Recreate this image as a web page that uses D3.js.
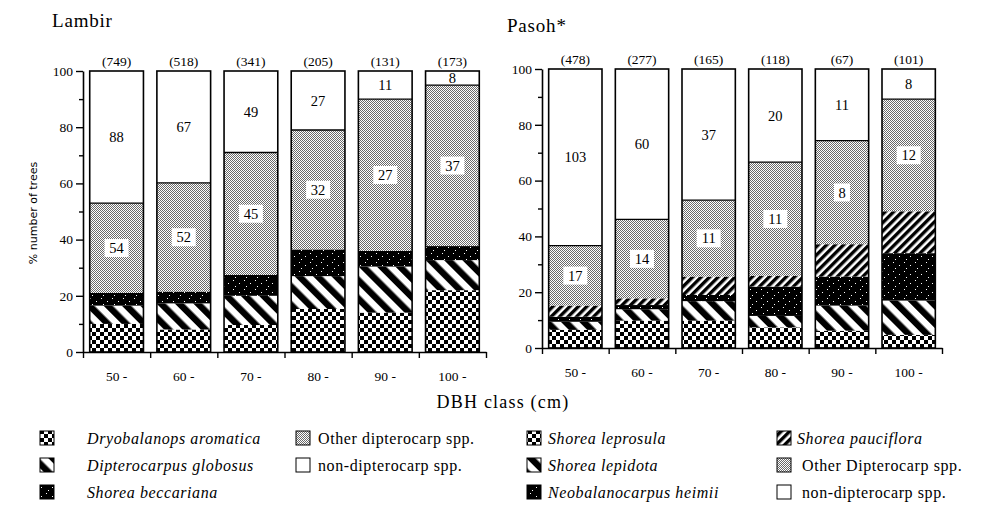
<!DOCTYPE html>
<html>
<head>
<meta charset="utf-8">
<script src="https://cdn.jsdelivr.net/npm/d3@7"></script>
<style>
body { margin: 0; background: #fff; }
svg text { font-family: "Liberation Serif", "Times New Roman", serif; fill: #000; }
</style>
</head>
<body>
<div id="chart"></div>
<script>
/*global d3 */

// ---- data ----
var dbhClasses = ["50 -", "60 -", "70 -", "80 -", "90 -", "100 -"];

// Lambir (% of trees, bottom to top)
var lambirDryobalanops = [10, 8, 9.6, 15.3, 14, 22];
var lambirGlobosus     = [6.5, 9.3, 10.4, 11.7, 16.4, 10.7];
var lambirBeccariana   = [4.5, 4.2, 7.4, 9.5, 5.6, 5];
var lambirOtherDipt    = [32, 38.7, 43.6, 42.5, 54, 57.3];
var lambirNonDipt      = [47, 39.8, 29, 21, 10, 5];
var lambirOtherLabels  = [54, 52, 45, 32, 27, 37];
var lambirNonLabels    = [88, 67, 49, 27, 11, 8];
var lambirCounts       = [749, 518, 341, 205, 131, 173];

// Pasoh
var pasohLeprosula   = [6.5, 9.8, 9.8, 7.4, 6.2, 4.7];
var pasohLepidota    = [2.9, 4.1, 7, 4.1, 9, 12.3];
var pasohHeimii      = [1.8, 1.5, 2.2, 10.5, 10.4, 17];
var pasohPauciflora  = [4, 2.4, 6.6, 3.9, 11.6, 15];
var pasohOtherDipt   = [21.5, 28.3, 27.4, 40.7, 37.1, 40.2];
var pasohNonDipt     = [63.3, 53.9, 47, 33.4, 25.7, 10.8];
var pasohOtherLabels = [17, 14, 11, 11, 8, 12];
var pasohNonLabels   = [103, 60, 37, 20, 11, 8];
var pasohCounts      = [478, 277, 165, 118, 67, 101];

var legendLambir = ["Dryobalanops aromatica", "Dipterocarpus globosus", "Shorea beccariana",
                    "Other dipterocarp spp.", "non-dipterocarp spp."];
var legendPasoh  = ["Shorea leprosula", "Shorea lepidota", "Neobalanocarpus heimii",
                    "Shorea pauciflora", "Other Dipterocarp spp.", "non-dipterocarp spp."];

var svg = d3.select("#chart").append("svg")
    .attr("width", 1003)
    .attr("height", 529);

// ---- fill patterns ----
var defs = svg.append("defs");

function pattern(id, w, h, transform) {
    var p = defs.append("pattern")
        .attr("id", id)
        .attr("patternUnits", "userSpaceOnUse")
        .attr("width", w).attr("height", h);
    if (transform) p.attr("patternTransform", transform);
    return p;
}

var pc = pattern("checker", 8, 8);
pc.append("rect").attr("width", 8).attr("height", 8).attr("fill", "#fff");
pc.append("rect").attr("width", 4).attr("height", 4).attr("fill", "#000");
pc.append("rect").attr("x", 4).attr("y", 4).attr("width", 4).attr("height", 4).attr("fill", "#000");

var pw = pattern("stripeWide", 13, 13, "rotate(-45)");
pw.append("rect").attr("width", 13).attr("height", 13).attr("fill", "#fff");
pw.append("rect").attr("width", 6.5).attr("height", 13).attr("fill", "#000");

var pf = pattern("stripeFine", 6, 6, "rotate(45)");
pf.append("rect").attr("width", 6).attr("height", 6).attr("fill", "#fff");
pf.append("rect").attr("width", 3.4).attr("height", 6).attr("fill", "#000");

var pd = pattern("blackDots", 11, 9);
pd.append("rect").attr("width", 11).attr("height", 9).attr("fill", "#000");
[[2, 1], [8, 4], [4, 7]].forEach(function(d){
    pd.append("rect").attr("x", d[0]).attr("y", d[1]).attr("width", 1).attr("height", 1).attr("fill", "#fff");
});

var pg = pattern("grayStipple", 2, 2);
pg.append("rect").attr("width", 2).attr("height", 2).attr("fill", "#fff");
pg.append("rect").attr("width", 1).attr("height", 1).attr("fill", "#6a6a6a");
pg.append("rect").attr("x", 1).attr("y", 1).attr("width", 1).attr("height", 1).attr("fill", "#6a6a6a");

// ---- one panel ----
function drawPanel(opts) {
    var keys = opts.keys;
    var rows = dbhClasses.map(function(c, i){
        var r = {cls: c};
        keys.forEach(function(k, j){ r[k] = opts.series[j][i]; });
        return r;
    });

    var x = d3.scaleBand().domain(dbhClasses)
        .range([opts.x0, opts.x1])
        .paddingInner(0.2).paddingOuter(0.1);
    var y = d3.scaleLinear().domain([0, 100]).range([opts.y0, opts.y1]);

    var g = svg.append("g");

    var stacked = d3.stack().keys(keys)(rows);

    g.selectAll("g.layer")
        .data(stacked)
      .enter().append("g")
        .attr("class", "layer")
        .attr("fill", function(d){ return opts.fills[d.key]; })
      .selectAll("rect")
        .data(function(d){ return d; })
      .enter().append("rect")
        .attr("x", function(d){ return x(d.data.cls); })
        .attr("y", function(d){ return y(d[1]); })
        .attr("width", x.bandwidth())
        .attr("height", function(d){ return y(d[0]) - y(d[1]); });

    // line between other dipterocarps and non-dipterocarps
    var other = stacked[keys.length - 2];
    g.selectAll("line.sep")
        .data(other)
      .enter().append("line")
        .attr("x1", function(d){ return x(d.data.cls); })
        .attr("x2", function(d){ return x(d.data.cls) + x.bandwidth(); })
        .attr("y1", function(d){ return y(d[1]); })
        .attr("y2", function(d){ return y(d[1]); })
        .attr("stroke", "#000").attr("stroke-width", 1.3);

    // bar outlines
    g.selectAll("rect.outline")
        .data(dbhClasses)
      .enter().append("rect")
        .attr("class", "outline")
        .attr("x", function(d){ return x(d); })
        .attr("y", y(100))
        .attr("width", x.bandwidth())
        .attr("height", y(0) - y(100))
        .attr("fill", "none")
        .attr("stroke", "#000").attr("stroke-width", 1.6);

    // labels in the gray (other dipterocarp) segment, on a white box
    var lab = g.selectAll("g.olab")
        .data(other)
      .enter().append("g")
        .attr("class", "olab")
        .attr("transform", function(d, i){
            return "translate(" + (x(d.data.cls) + x.bandwidth() / 2) + "," + ((y(d[0]) + y(d[1])) / 2) + ")";
        });
    lab.append("rect")
        .attr("x", function(d, i){ return String(opts.otherLabels[i]).length > 1 ? -12 : -8; })
        .attr("y", -9)
        .attr("width", function(d, i){ return String(opts.otherLabels[i]).length > 1 ? 24 : 16; })
        .attr("height", 18)
        .attr("fill", "#fff");
    lab.append("text")
        .attr("text-anchor", "middle")
        .attr("dy", "0.35em")
        .attr("font-size", 14.5)
        .text(function(d, i){ return opts.otherLabels[i]; });

    // labels in the white (non-dipterocarp) segment
    var top = stacked[keys.length - 1];
    g.selectAll("text.nlab")
        .data(top)
      .enter().append("text")
        .attr("class", "nlab")
        .attr("x", function(d){ return x(d.data.cls) + x.bandwidth() / 2; })
        .attr("y", function(d){ return (y(d[0]) + y(d[1])) / 2; })
        .attr("dy", "0.35em")
        .attr("text-anchor", "middle")
        .attr("font-size", 14.5)
        .text(function(d, i){ return opts.nonLabels[i]; });

    // counts above bars
    g.selectAll("text.count")
        .data(dbhClasses)
      .enter().append("text")
        .attr("class", "count")
        .attr("x", function(d){ return x(d) + x.bandwidth() / 2; })
        .attr("y", y(100) - 5)
        .attr("text-anchor", "middle")
        .attr("font-size", 13.5)
        .text(function(d, i){ return "(" + opts.counts[i] + ")"; });

    // y axis, major and minor ticks
    g.append("g")
        .attr("transform", "translate(" + opts.x0 + ",0)")
        .call(d3.axisLeft(y).tickValues([0, 20, 40, 60, 80, 100])
            .tickSize(7).tickSizeOuter(0).tickPadding(3));
    g.append("g")
        .attr("transform", "translate(" + opts.x0 + ",0)")
        .call(d3.axisLeft(y).tickValues([10, 30, 50, 70, 90])
            .tickSize(4).tickFormat(function(){ return null; }))
      .select(".domain").remove();

    // x axis: ticks at class boundaries, labels under bars
    var xb = d3.scaleLinear().domain([0, dbhClasses.length]).range([opts.x0, opts.x1]);
    g.append("g")
        .attr("transform", "translate(0," + y(0) + ")")
        .call(d3.axisBottom(xb).tickValues(d3.range(dbhClasses.length + 1))
            .tickSize(6).tickSizeOuter(0).tickFormat(function(){ return null; }));
    var xAxis = g.append("g")
        .attr("transform", "translate(0," + y(0) + ")")
        .call(d3.axisBottom(x).tickSize(0).tickPadding(19));
    xAxis.select(".domain").remove();

    g.selectAll(".domain").attr("stroke-width", 1.6);
    g.selectAll(".tick line").attr("stroke-width", 1.4);
    g.selectAll(".tick text").attr("font-size", 13.5);

    g.append("text")
        .attr("x", opts.titleX).attr("y", opts.titleY)
        .attr("font-size", 19)
        .attr("letter-spacing", 0.8)
        .text(opts.title);
}

drawPanel({
    title: "Lambir", titleX: 52, titleY: 27,
    x0: 83, x1: 486, y0: 352, y1: 71,
    keys: ["dryo", "glob", "becc", "other", "non"],
    series: [lambirDryobalanops, lambirGlobosus, lambirBeccariana, lambirOtherDipt, lambirNonDipt],
    fills: {dryo: "url(#checker)", glob: "url(#stripeWide)", becc: "url(#blackDots)",
            other: "url(#grayStipple)", non: "#fff"},
    otherLabels: lambirOtherLabels, nonLabels: lambirNonLabels, counts: lambirCounts
});

drawPanel({
    title: "Pasoh*", titleX: 507, titleY: 32,
    x0: 542, x1: 942, y0: 348, y1: 69,
    keys: ["lepr", "lepi", "heim", "pauc", "other", "non"],
    series: [pasohLeprosula, pasohLepidota, pasohHeimii, pasohPauciflora, pasohOtherDipt, pasohNonDipt],
    fills: {lepr: "url(#checker)", lepi: "url(#stripeWide)", heim: "url(#blackDots)",
            pauc: "url(#stripeFine)", other: "url(#grayStipple)", non: "#fff"},
    otherLabels: pasohOtherLabels, nonLabels: pasohNonLabels, counts: pasohCounts
});

// axis titles
svg.append("text")
    .attr("transform", "translate(37,213) rotate(-90)")
    .attr("text-anchor", "middle")
    .style("font-family", "'DejaVu Sans', sans-serif")
    .attr("font-size", 11)
    .text("% number of trees");

svg.append("text")
    .attr("x", 503).attr("y", 408)
    .attr("text-anchor", "middle")
    .attr("font-size", 18)
    .attr("letter-spacing", 1.2)
    .text("DBH class (cm)");

// ---- legend ----
var fillsLambir = ["url(#checker)", "url(#stripeWide)", "url(#blackDots)", "url(#grayStipple)", "#fff"];
var fillsPasoh = ["url(#checker)", "url(#stripeWide)", "url(#blackDots)", "url(#stripeFine)", "url(#grayStipple)", "#fff"];
var rowY = [438, 465, 492];

function legend(names, fills, cols) {
    names.forEach(function(name, i){
        var c = cols[i];
        var lg = svg.append("g").attr("transform", "translate(0," + rowY[c.row] + ")");
        lg.append("rect")
            .attr("x", c.box).attr("y", -7)
            .attr("width", 14).attr("height", 14)
            .attr("fill", fills[i])
            .attr("stroke", "#000").attr("stroke-width", 1);
        lg.append("text")
            .attr("x", c.text).attr("dy", "0.35em")
            .attr("font-size", 16)
            .attr("letter-spacing", 0.6)
            .attr("font-style", /^(Other|non)/.test(name) ? "normal" : "italic")
            .text(name);
    });
}

legend(legendLambir, fillsLambir, [
    {box: 40, text: 87, row: 0}, {box: 40, text: 87, row: 1}, {box: 40, text: 87, row: 2},
    {box: 296, text: 318, row: 0}, {box: 296, text: 318, row: 1}
]);
legend(legendPasoh, fillsPasoh, [
    {box: 527, text: 548, row: 0}, {box: 527, text: 548, row: 1}, {box: 527, text: 548, row: 2},
    {box: 777, text: 797, row: 0}, {box: 777, text: 802, row: 1}, {box: 777, text: 802, row: 2}
]);
</script>
</body>
</html>
